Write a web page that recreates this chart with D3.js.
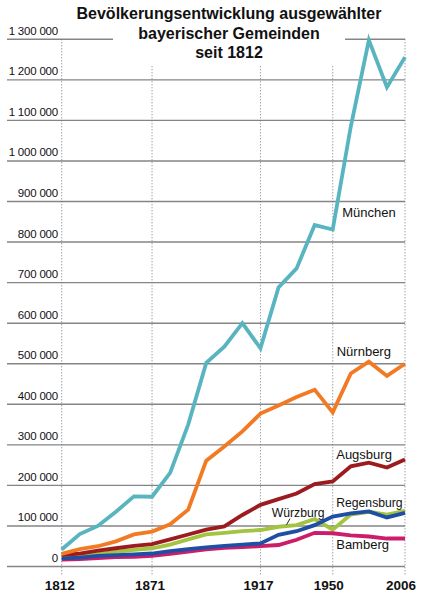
<!DOCTYPE html>
<html>
<head>
<meta charset="utf-8">
<script src="https://cdn.jsdelivr.net/npm/d3@7"></script>
<style>
  html, body { margin: 0; padding: 0; background: #fff; }
  svg { display: block; font-family: "Liberation Sans", Arial, Helvetica, sans-serif; }
</style>
</head>
<body>
<svg id="chart" width="436" height="599"></svg>
<script>
// ---- data ----
const years = [1812, 1840, 1852, 1861, 1867, 1871, 1880, 1890, 1900, 1905, 1910, 1917, 1925, 1933, 1939, 1950, 1961, 1970, 1987, 2006];
const tickYears = [1812, 1871, 1917, 1950, 2006];
const yTicks = [0, 100000, 200000, 300000, 400000, 500000, 600000, 700000, 800000, 900000, 1000000, 1100000, 1200000, 1300000];

const muenchen   = [42000, 80000, 100000, 135000, 173000, 172000, 231000, 350000, 502000, 542000, 600000, 538000, 688000, 735000, 842000, 831000, 1085000, 1298000, 1182000, 1256000];
const nuernberg  = [31000, 43000, 50000, 62000, 79000, 86000, 104000, 140000, 261000, 296000, 333000, 377000, 397000, 418000, 436000, 380000, 476000, 505000, 470000, 500000];
const augsburg   = [29000, 32000, 39000, 45000, 51000, 55000, 67000, 79000, 91000, 99000, 127000, 152000, 166000, 180000, 203000, 210000, 247000, 256000, 244000, 264000];
const wuerzburg  = [23000, 26000, 31000, 36000, 41000, 45000, 54000, 67000, 79000, 83000, 87000, 90000, 98000, 102000, 117000, 91000, 128000, 135000, 128000, 137000];
const regensburg = [20000, 22000, 26000, 28000, 30000, 32000, 38000, 43000, 47000, 51000, 54000, 57000, 78000, 87000, 102000, 123000, 131000, 136000, 121000, 132000];
const bamberg    = [17000, 18000, 21000, 23000, 24000, 26000, 31000, 37000, 42000, 46000, 48000, 50000, 53000, 66000, 83000, 82000, 77000, 74000, 69000, 69000];

const titleLines = ["Bevölkerungsentwicklung ausgewählter", "bayerischer Gemeinden", "seit 1812"];

// series in drawing order
const series = [
  { name: "Würzburg",   values: wuerzburg,  color: "#a2c440" },
  { name: "Bamberg",    values: bamberg,    color: "#cc1d6b" },
  { name: "Regensburg", values: regensburg, color: "#1f4fa5" },
  { name: "Augsburg",   values: augsburg,   color: "#9b1b1f" },
  { name: "Nürnberg",   values: nuernberg,  color: "#f27a22" },
  { name: "München",    values: muenchen,   color: "#58b4bf" }
];

// ---- layout ----
const svg = d3.select("#chart");
const x = d3.scalePoint().domain(years).range([61.7, 405]);
const y = d3.scaleLinear().domain([0, 1300000]).range([566.5, 39.3]);

const fmt = d3.formatLocale({ decimal: ",", thousands: " ", grouping: [3], currency: ["", ""] }).format(",d");

// horizontal gridlines
svg.append("g").selectAll("line").data(yTicks).join("line")
  .attr("x1", 7).attr("x2", x(2006))
  .attr("y1", d => y(d)).attr("y2", d => y(d))
  .attr("stroke", "#858585").attr("stroke-width", 1.4);

// vertical dotted lines
svg.append("g").selectAll("line").data(tickYears).join("line")
  .attr("x1", d => x(d)).attr("x2", d => x(d))
  .attr("y1", y(1300000)).attr("y2", y(0) + 8)
  .attr("stroke", "#777").attr("stroke-width", 1)
  .attr("stroke-dasharray", "1,2");

// white box behind title
svg.append("rect").attr("x", 113).attr("y", 22).attr("width", 232).attr("height", 44).attr("fill", "#fff");

// y labels
svg.append("g").selectAll("text").data(yTicks).join("text")
  .attr("x", 58).attr("y", d => y(d) - 4.5)
  .attr("text-anchor", "end")
  .attr("font-size", 11.5).attr("fill", "#111")
  .attr("letter-spacing", -0.2)
  .text(d => fmt(d));

// x labels
svg.append("g").selectAll("text").data(tickYears).join("text")
  .attr("x", d => x(d) - (d >= 1950 ? 4 : 2)).attr("y", 590)
  .attr("text-anchor", "middle")
  .attr("font-size", 13.5).attr("font-weight", "bold").attr("fill", "#111")
  .text(d => d);

// title
svg.append("g").selectAll("text").data(titleLines).join("text")
  .attr("x", 229).attr("y", (d, i) => 19 + i * 19.6)
  .attr("text-anchor", "middle")
  .attr("font-size", 16).attr("font-weight", "bold").attr("fill", "#111")
  .text(d => d);

// lines
const line = d3.line().x((d, i) => x(years[i])).y(d => y(d)).curve(d3.curveLinear);
svg.append("g").selectAll("path").data(series).join("path")
  .attr("d", d => line(d.values))
  .attr("fill", "none")
  .attr("stroke", d => d.color)
  .attr("stroke-width", 3.8)
  .attr("stroke-linejoin", "miter")
  .attr("stroke-linecap", "butt");

// series labels
const labels = [
  { text: "München",    xYear: 1950, dx: 9.5, value: 861000, size: 13 },
  { text: "Nürnberg",   xYear: 1950, dx: 4,   value: 518000, size: 13 },
  { text: "Augsburg",   xYear: 1950, dx: 3.5, value: 266000, size: 13 },
  { text: "Regensburg", xYear: 1950, dx: 3.5, value: 147000, size: 12.2 },
  { text: "Bamberg",    xYear: 1950, dx: 3.5, value: 42000,  size: 13 },
  { text: "Würzburg",   xYear: 1925, dx: -6.8, value: 121000, size: 12.2 }
];
svg.append("g").selectAll("text").data(labels).join("text")
  .attr("x", d => x(d.xYear) + d.dx).attr("y", d => y(d.value))
  .attr("font-size", d => d.size).attr("fill", "#111")
  .text(d => d.text);

// Würzburg leader
svg.append("line")
  .attr("x1", x(1925) + 11.5).attr("y1", y(118000))
  .attr("x2", x(1925) + 8).attr("y2", y(103000))
  .attr("stroke", "#222").attr("stroke-width", 1);
</script>
</body>
</html>
